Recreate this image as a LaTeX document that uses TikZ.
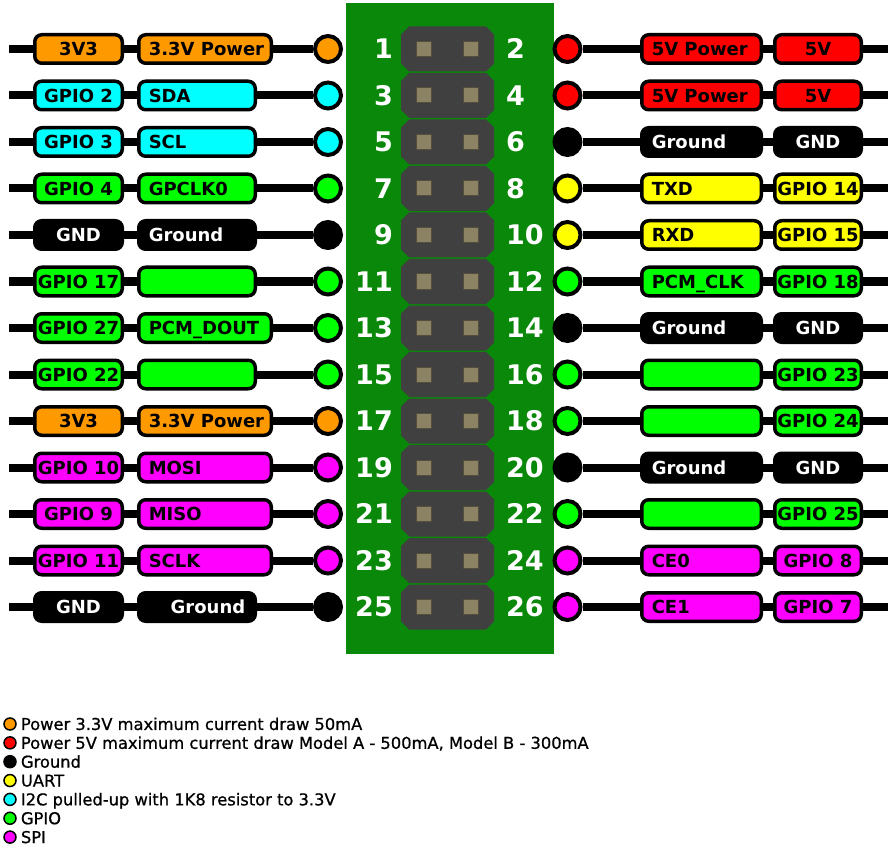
\documentclass[tikz,border=0pt]{standalone}
\usepackage{fontspec}
\setmainfont{DejaVu Sans}
\newfontfamily\legfont{DejaVu Sans}[FakeBold=0.8]
\usepackage{xcolor}
\usetikzlibrary{positioning}
\definecolor{cPowA}{RGB}{255,153,0}
\definecolor{cPowB}{RGB}{255,0,0}
\definecolor{cIIC}{RGB}{0,255,255}
\definecolor{cGPIO}{RGB}{0,255,0}
\definecolor{cUART}{RGB}{255,255,0}
\definecolor{cSPI}{RGB}{255,0,255}
\definecolor{cGND}{RGB}{0,0,0}
\definecolor{cBoard}{RGB}{10,136,10}
\definecolor{cHeader}{RGB}{64,64,64}
\definecolor{cPin}{RGB}{140,130,100}

\begin{document}
\begin{tikzpicture}[x=1pt, y=-1pt]

% ------------------- styles -------------------
\tikzstyle{labelbox} = [draw=black, line width=3.5pt, rounded corners=7pt, minimum height=28.5pt, inner xsep=1pt, inner ysep=0pt, text height=13.1pt, text depth=0pt, font=\bfseries\fontsize{18}{20}\selectfont]
\tikzstyle{funcbox} = [labelbox, inner xsep=10pt]
\tikzstyle{pinball} = [circle, draw=black, line width=4pt, minimum size=26pt, inner sep=0pt]
\tikzstyle{pinnum} = [text=white, inner sep=0pt, text height=19.7pt, text depth=0pt, font=\bfseries\fontsize{27}{30}\selectfont]
\tikzstyle{wire} = [line width=8pt, black]
\tikzstyle{legdot} = [circle, draw=black, line width=1.5pt, minimum size=12pt, inner sep=0pt]
\tikzstyle{legtext} = [inner sep=0pt, text height=11.9pt, text depth=0pt, font=\legfont\fontsize{16.3}{18}\selectfont]

\useasboundingbox (0,0) rectangle (891,850);

% ------------------- board and header -------------------
\fill[cBoard] (346,3) rectangle (554,654);
\foreach \k in {0,...,12} {
  \pgfmathsetmacro{\yy}{49+46.5*\k}
  \fill[cHeader] (409,\yy-22.5) -- ++(77,0) -- ++(8,8) -- ++(0,29) -- ++(-8,8) -- ++(-77,0) -- ++(-8,-8) -- ++(0,-29) -- cycle;
  \foreach \px in {424,471}
    \draw[fill=cPin, draw=cPin!60!black, line width=1pt] (\px-7.5,\yy-7.5) rectangle (\px+7.5,\yy+7.5);
}

% ------------------- odd pins (left) -------------------
\foreach \k/\col/\fg/\ta/\tb/\w/\al in {
  0/cPowA/black/3V3/3.3V Power/112.5/l,
  1/cIIC/black/GPIO 2/SDA/96.5/l,
  2/cIIC/black/GPIO 3/SCL/96.5/l,
  3/cGPIO/black/GPIO 4/GPCLK0/96.5/l,
  4/cGND/white/GND/Ground/96.5/l,
  5/cGPIO/black/GPIO 17//96.5/l,
  6/cGPIO/black/GPIO 27/PCM\_DOUT/112.5/l,
  7/cGPIO/black/GPIO 22//96.5/l,
  8/cPowA/black/3V3/3.3V Power/112.5/l,
  9/cSPI/black/GPIO 10/MOSI/112.5/l,
  10/cSPI/black/GPIO 9/MISO/112.5/l,
  11/cSPI/black/GPIO 11/SCLK/112.5/l,
  12/cGND/white/GND/Ground/96.5/r} {
  \pgfmathsetmacro{\yy}{49+46.5*\k}
  \pgfmathtruncatemacro{\pn}{2*\k+1}
  \coordinate (lend\pn) at (9,\yy);
  \node[labelbox, fill=\col, text=\fg, minimum width=87.5pt, anchor=west] (lgpio\pn) at (33,\yy) {\ta};
  \node[funcbox, fill=\col, text=\fg, anchor=west] (lfunc\pn) at (137,\yy) {\makebox[\w pt][\al]{\tb}};
  \node[pinball, fill=\col] (lpin\pn) at (328,\yy) {};
  \node[pinnum, anchor=east] (lnum\pn) at (393,\yy) {\pn};
  \draw[wire] (lend\pn) -- (lgpio\pn);
  \draw[wire] (lgpio\pn) -- (lfunc\pn);
  \draw[wire] (lfunc\pn) -- (lpin\pn);
}

% ------------------- even pins (right) -------------------
\foreach \k/\col/\fg/\ta/\tb in {
  0/cPowB/black/5V Power/5V,
  1/cPowB/black/5V Power/5V,
  2/cGND/white/Ground/GND,
  3/cUART/black/TXD/GPIO 14,
  4/cUART/black/RXD/GPIO 15,
  5/cGPIO/black/PCM\_CLK/GPIO 18,
  6/cGND/white/Ground/GND,
  7/cGPIO/black//GPIO 23,
  8/cGPIO/black//GPIO 24,
  9/cGND/white/Ground/GND,
  10/cGPIO/black//GPIO 25,
  11/cSPI/black/CE0/GPIO 8,
  12/cSPI/black/CE1/GPIO 7} {
  \pgfmathsetmacro{\yy}{49+46.5*\k}
  \pgfmathtruncatemacro{\pn}{2*\k+2}
  \node[pinnum, anchor=west] (rnum\pn) at (506,\yy) {\pn};
  \node[pinball, fill=\col] (rpin\pn) at (567.5,\yy) {};
  \node[funcbox, fill=\col, text=\fg, anchor=west] (rfunc\pn) at (640,\yy) {\makebox[99.5pt][l]{\ta}};
  \node[labelbox, fill=\col, text=\fg, minimum width=86.5pt, anchor=west] (rgpio\pn) at (773,\yy) {\tb};
  \coordinate (rend\pn) at (888,\yy);
  \draw[wire] (rpin\pn) -- (rfunc\pn);
  \draw[wire] (rfunc\pn) -- (rgpio\pn);
  \draw[wire] (rgpio\pn) -- (rend\pn);
}

% ------------------- legend -------------------
\foreach \k/\col/\txt in {
  0/cPowA/{Power 3.3V maximum current draw 50mA},
  1/cPowB/{Power 5V maximum current draw Model A - 500mA, Model B - 300mA},
  2/cGND/{Ground},
  3/cUART/{UART},
  4/cIIC/{I2C pulled-up with 1K8 resistor to 3.3V},
  5/cGPIO/{GPIO},
  6/cSPI/{SPI}} {
  \node[legdot, fill=\col] (dot\k) at (10,{724+18.85*\k}) {};
  \node[legtext, right=4pt of dot\k] (leg\k) {\txt};
}

\end{tikzpicture}
\end{document}
